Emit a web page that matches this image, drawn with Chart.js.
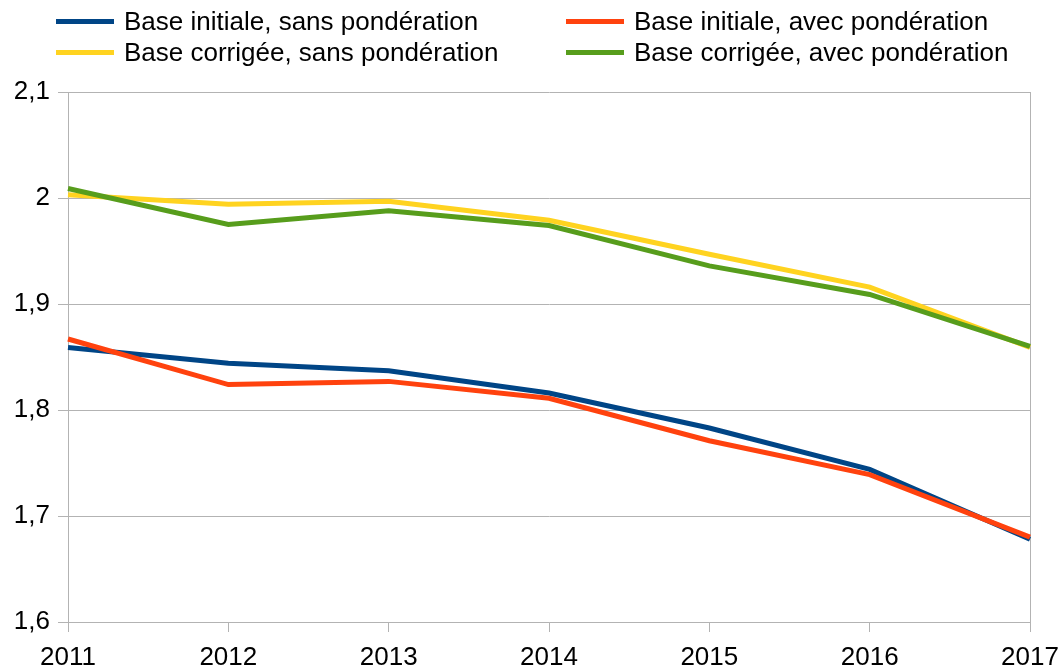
<!DOCTYPE html>
<html>
<head>
<meta charset="utf-8">
<script src="https://cdn.jsdelivr.net/npm/chart.js@4/dist/chart.umd.min.js"></script>
<style>
  body { margin: 0; background: #fff; }
  #wrap { position: relative; width: 1064px; height: 670px; }
  #legend-container { position: absolute; left: 0; top: 0; width: 1064px; height: 70px; }
  #legend-container ul { list-style: none; margin: 0; padding: 0; }
  #legend-container li { position: absolute; display: flex; align-items: center; font-family: "Liberation Sans", Arial, sans-serif; font-size: 26px; color: #000; white-space: nowrap; }
</style>
</head>
<body>
<div id="wrap">
  <canvas id="chart" width="1064" height="670"></canvas>
  <div id="legend-container"></div>
</div>
<script>
const years = ['2011', '2012', '2013', '2014', '2015', '2016', '2017'];

const initialeSans = [1.859, 1.844, 1.837, 1.816, 1.783, 1.744, 1.678];
const initialeAvec = [1.867, 1.824, 1.827, 1.811, 1.771, 1.739, 1.680];
const corrigeeSans = [2.003, 1.994, 1.997, 1.979, 1.947, 1.916, 1.859];
const corrigeeAvec = [2.009, 1.975, 1.988, 1.974, 1.936, 1.909, 1.860];

const labels = [
  'Base initiale, sans pondération',
  'Base initiale, avec pondération',
  'Base corrigée, sans pondération',
  'Base corrigée, avec pondération'
];
const colors = ['#004586', '#ff420e', '#ffd320', '#579d1c'];

// legend slots: two columns, two rows
const legendPos = [
  {x: 56, y: 21}, {x: 566, y: 21},
  {x: 56, y: 52}, {x: 566, y: 52}
];

const htmlLegendPlugin = {
  id: 'htmlLegend',
  afterUpdate(chart, args, options) {
    const box = document.getElementById(options.containerID);
    let ul = box.querySelector('ul');
    if (!ul) {
      ul = document.createElement('ul');
      box.appendChild(ul);
    }
    while (ul.firstChild) ul.firstChild.remove();

    chart.data.datasets.forEach((ds, i) => {
      const li = document.createElement('li');
      li.style.left = legendPos[i].x + 'px';
      li.style.top = (legendPos[i].y - 15) + 'px';
      li.style.height = '30px';

      const swatch = document.createElement('span');
      swatch.style.display = 'inline-block';
      swatch.style.width = '58px';
      swatch.style.height = '5px';
      swatch.style.background = ds.borderColor;
      swatch.style.marginRight = '10px';

      const txt = document.createElement('span');
      txt.textContent = ds.label;

      li.appendChild(swatch);
      li.appendChild(txt);
      ul.appendChild(li);
    });
  }
};

const series = [initialeSans, initialeAvec, corrigeeSans, corrigeeAvec];
const drawOrder = [3, 2, 1, 0];

const data = {
  labels: years,
  datasets: series.map((vals, i) => ({
    label: labels[i],
    data: vals,
    borderColor: colors[i],
    backgroundColor: colors[i],
    borderWidth: 5,
    pointRadius: 0,
    tension: 0,
    fill: false,
    order: drawOrder[i]
  }))
};

const gridColor = '#b3b3b3';
const tickFont = {family: '"Liberation Sans", Arial, sans-serif', size: 26};

const config = {
  type: 'line',
  data: data,
  options: {
    responsive: false,
    animation: false,
    layout: {padding: {top: 92, right: 34, left: 0, bottom: 0}},
    plugins: {
      htmlLegend: {containerID: 'legend-container'},
      legend: {display: false},
      tooltip: {enabled: false}
    },
    scales: {
      x: {
        offset: false,
        grid: {
          color: ctx => (ctx.index === 0 || ctx.index === years.length - 1) ? gridColor : 'rgba(0,0,0,0)',
          tickColor: gridColor,
          tickLength: 10,
          lineWidth: 1
        },
        border: {color: gridColor},
        ticks: {color: '#000', font: tickFont, padding: 10, maxRotation: 0},
        afterFit(scale) {
          scale.height = 48;
          // let the last label overhang instead of shrinking the plot
          scale.paddingLeft = 0;
          scale.paddingRight = 0;
        }
      },
      y: {
        min: 1.6,
        max: 2.1,
        grid: {color: gridColor, tickLength: 10},
        border: {color: gridColor},
        ticks: {
          stepSize: 0.1,
          color: '#000',
          font: tickFont,
          padding: 8,
          callback: v => (Math.round(v * 10) / 10).toString().replace('.', ',')
        },
        afterFit(scale) { scale.width = 68; }
      }
    }
  },
  plugins: [htmlLegendPlugin]
};

new Chart(document.getElementById('chart'), config);
</script>
</body>
</html>
